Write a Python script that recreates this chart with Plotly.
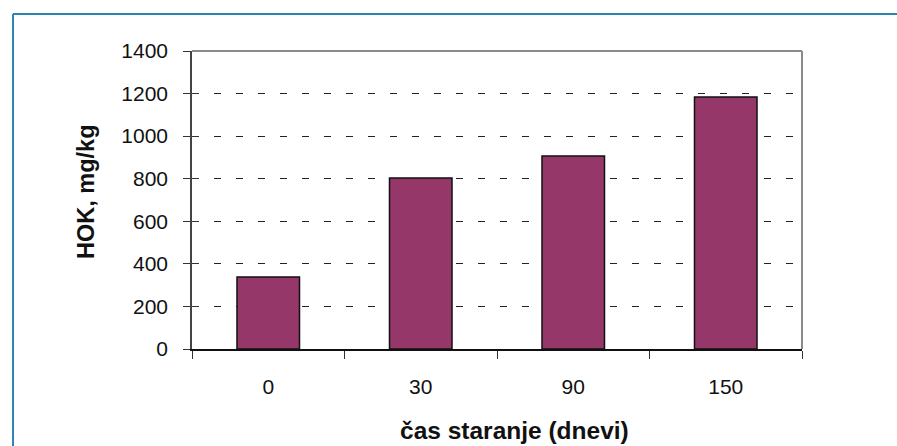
import plotly.graph_objects as go

# Aging time (days) and corresponding HOK content
days = ["0", "30", "90", "150"]
hok = [338, 803, 907, 1184]
y_ticks = [0, 200, 400, 600, 800, 1000, 1200, 1400]

x_title = "čas staranje (dnevi)"
y_title = "HOK, mg/kg"

bar_color = "#953768"
frame_color = "#2B86AD"
font_family = "Liberation Sans, Arial, sans-serif"

fig = go.Figure()

fig.add_trace(go.Bar(
    x=days, y=hok,
    marker=dict(color=bar_color, line=dict(color="#111111", width=1.5)),
    width=0.41,
    showlegend=False,
))

# invisible companion trace so the inner-tick overlay axis is drawn
fig.add_trace(go.Scatter(x=days, y=hok, yaxis="y2", mode="markers",
                         marker=dict(opacity=0), hoverinfo="skip", showlegend=False))

fig.update_layout(
    width=897, height=446,
    margin=dict(l=192, r=95, t=51, b=97),
    paper_bgcolor="white", plot_bgcolor="white",
    font=dict(family=font_family, size=21, color="#111111"),
    xaxis=dict(
        type="category",
        tickson="boundaries",
        ticks="outside", ticklen=8, tickcolor="#333333", tickwidth=1,
        showline=True, linecolor="#111111", linewidth=1.5,
        showgrid=False,
        ticklabelstandoff=18,
    ),
    yaxis=dict(
        range=[0, 1400],
        tickvals=y_ticks,
        ticks="outside", ticklen=7, tickcolor="#333333", tickwidth=1,
        showline=True, linecolor="#444444", linewidth=1.5,
        showgrid=True, gridcolor="#222222", gridwidth=1, griddash="7px,15px",
        zeroline=False,
        ticklabelstandoff=11,
    ),
    yaxis2=dict(
        overlaying="y", side="left", range=[0, 1400],
        tickvals=y_ticks, ticks="inside", ticklen=7, tickcolor="#333333",
        showticklabels=False, showgrid=False, zeroline=False, showline=False,
    ),
    annotations=[
        dict(text="<b>%s</b>" % x_title, xref="paper", yref="paper",
             x=0.528, y=-0.272, xanchor="center", yanchor="middle",
             showarrow=False, font=dict(size=24.5)),
        dict(text="<b>%s</b>" % y_title, xref="paper", yref="paper",
             x=-0.1738, y=0.527, xanchor="center", yanchor="middle",
             textangle=-90, showarrow=False, font=dict(size=23.5)),
    ],
    shapes=[
        # gray border on top and right of the plotting area
        dict(type="line", xref="paper", yref="paper", x0=0, x1=1, y0=1, y1=1,
             line=dict(color="#8A8A8A", width=2), layer="below"),
        dict(type="line", xref="paper", yref="paper", x0=1, x1=1, y0=0, y1=1,
             line=dict(color="#8A8A8A", width=2), layer="below"),
        # outer teal frame (top and left edges)
        dict(type="line", xref="paper", yref="paper", x0=-0.2934, x1=1.2, y0=1.124, y1=1.124,
             line=dict(color=frame_color, width=2)),
        dict(type="line", xref="paper", yref="paper", x0=-0.2934, x1=-0.2934, y0=-0.4, y1=1.124,
             line=dict(color=frame_color, width=2)),
    ],
)

fig.write_html("out.html")
